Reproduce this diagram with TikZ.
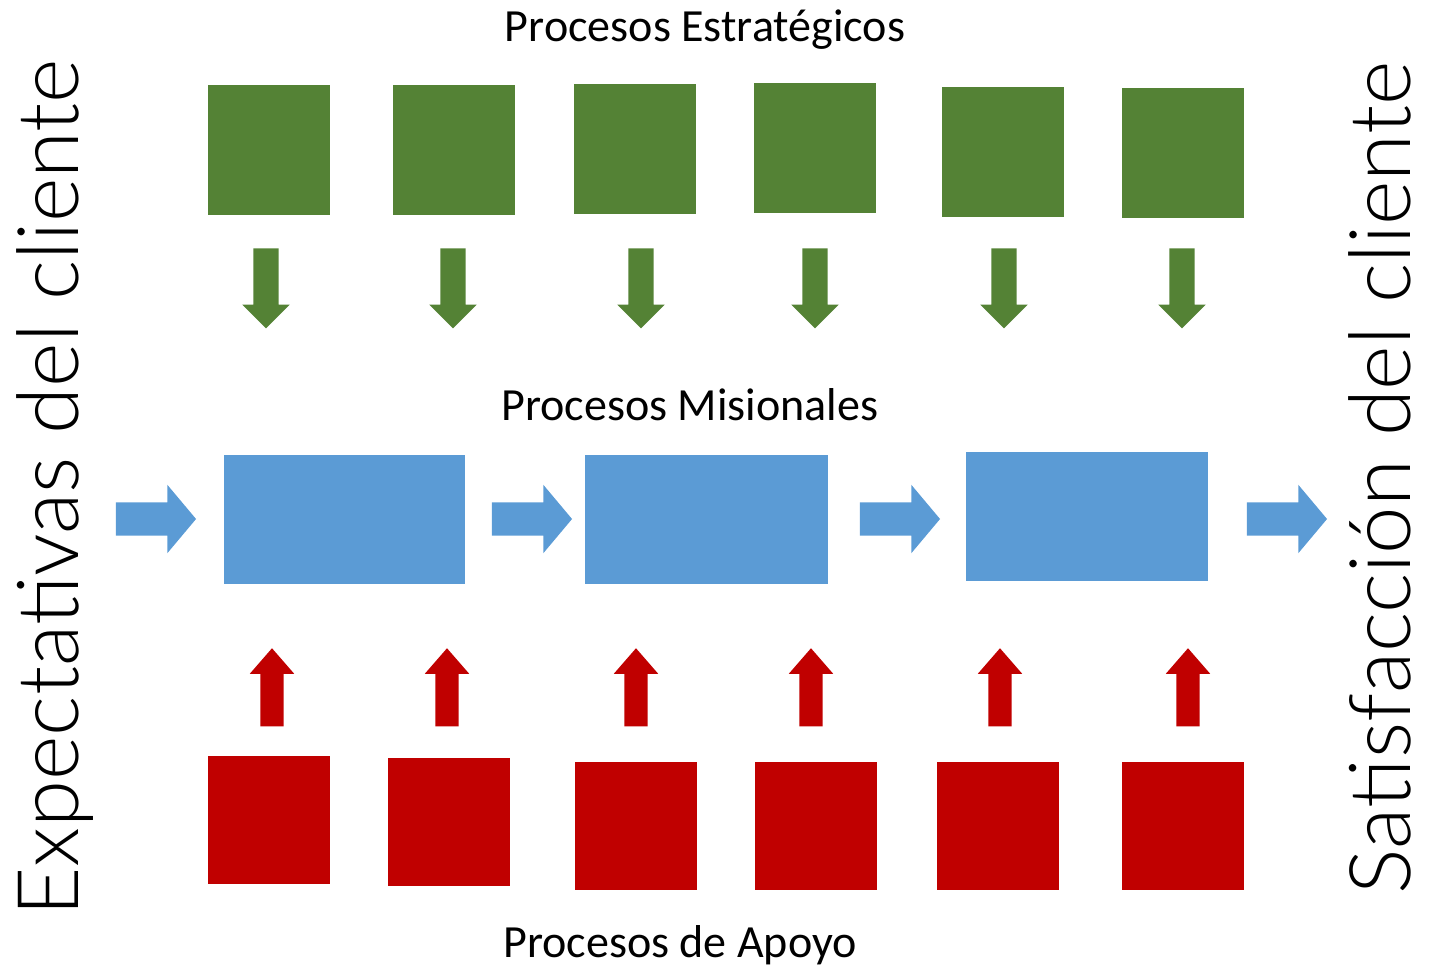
\documentclass[tikz,border=0pt]{standalone}
\usepackage{fontspec}
\setmainfont{Carlito}
\newfontfamily\ligera{Lato Light}
\usepackage{tikz}
\usetikzlibrary{shapes.arrows}
\definecolor{verde}{HTML}{548235}
\definecolor{azul}{HTML}{5B9BD5}
\definecolor{rojo}{HTML}{C00000}
\tikzset{
    caja/.style={inner sep=0, minimum width=1.22cm, minimum height=1.3cm},
    flecha/.style={single arrow, inner sep=0, single arrow tip angle=90},
}
\begin{document}
\begin{tikzpicture}[x=0.01cm, y=-0.01cm]
    \useasboundingbox (0,0) rectangle (1435,973);
    % titulos
    \node (estr) at (705,30) {\fontsize{13.1}{15}\selectfont Procesos Estratégicos};
    \node (mis) at (690,405) {\fontsize{13.1}{15}\selectfont Procesos Misionales};
    \node (apoyo) at (680,945) {\fontsize{13.1}{15}\selectfont Procesos de Apoyo};
    \node[rotate=90] (expect) at (55,488) {\ligera\fontsize{24.2}{29}\selectfont Expectativas del cliente};
    \node[rotate=90] (satis) at (1380,478) {\ligera\fontsize{24.2}{29}\selectfont Satisfacción del cliente};
    % estrategicos
    \foreach \x/\y [count=\i] in {269/150, 454/150, 635/149, 815/148, 1003/152, 1183/153}
        \node[caja, fill=verde] (e\i) at (\x,\y) {};
    \foreach \x [count=\i] in {266, 453, 641, 815, 1004, 1182}
        \node[flecha, fill=verde, rotate=-90, minimum height=0.8cm, inner ysep=0.12cm, single arrow head extend=0.11cm] (fe\i) at (\x,282) {};
    % misionales
    \node[caja, fill=azul, minimum width=2.41cm, minimum height=1.29cm] (m1) at (344.5,519.5) {};
    \node[caja, fill=azul, minimum width=2.43cm, minimum height=1.29cm] (m2) at (706.5,519.5) {};
    \node[caja, fill=azul, minimum width=2.42cm, minimum height=1.29cm] (m3) at (1087,516.5) {};
    \foreach \x [count=\i] in {149, 525, 893, 1280}
        \node[flecha, fill=azul, minimum height=0.8cm, inner ysep=0.16cm, single arrow head extend=0.175cm, single arrow tip angle=100] (fm\i) at (\x,519) {};
    % apoyo
    \foreach \x [count=\i] in {272, 447, 636, 811, 1000, 1188}
        \node[flecha, fill=rojo, rotate=90, minimum height=0.78cm, inner ysep=0.11cm, single arrow head extend=0.105cm, single arrow tip angle=82] (fa\i) at (\x,694) {};
    \foreach \x/\y [count=\i] in {269/820, 449/822, 636/826, 816/826, 998/826, 1183/826}
        \node[caja, fill=rojo, minimum height=1.28cm] (a\i) at (\x,\y) {};

\end{tikzpicture}
\end{document}
